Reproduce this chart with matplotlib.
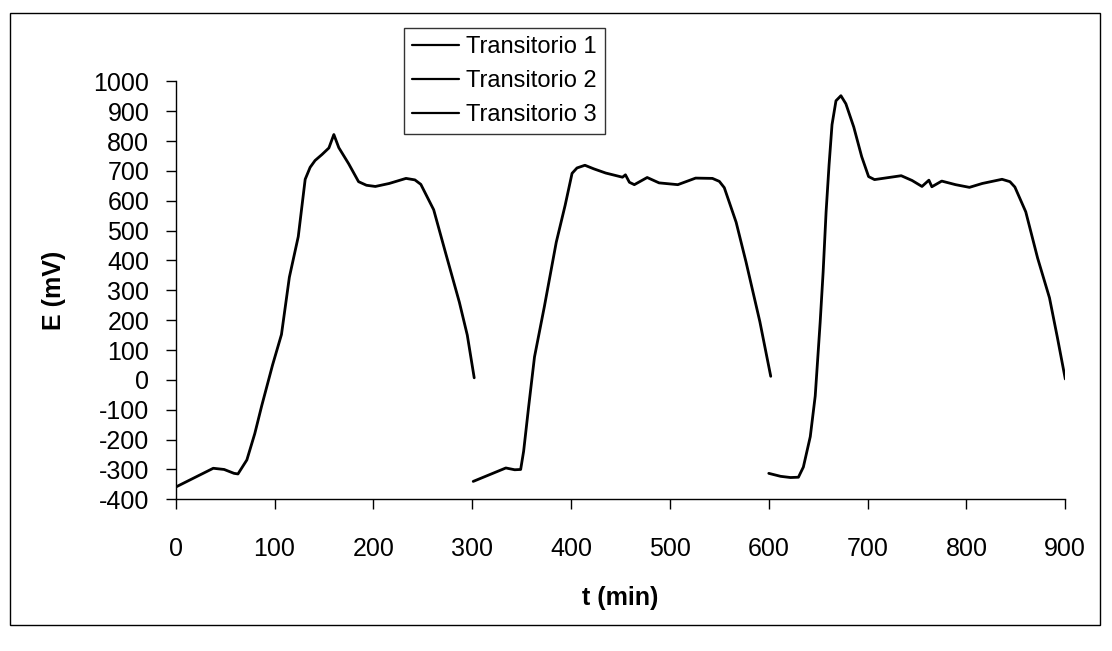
import matplotlib
matplotlib.use("Agg")
import matplotlib.pyplot as plt
from matplotlib.patches import Rectangle

plt.rcParams['font.family'] = ['Liberation Sans', 'DejaVu Sans']
plt.rcParams['axes.unicode_minus'] = False

# --- data (tiempo en min, potencial en mV) ---
t1 = [0, 38, 49, 59, 63, 72, 80, 87, 98, 107, 115, 124, 131, 136, 141, 148,
      155, 160, 165, 175, 185, 193, 202, 216, 233, 242, 248, 261, 273, 287,
      295, 302]
e1 = [-359, -296, -300, -313, -315, -268, -180, -87, 50, 152, 344, 480, 672,
      712, 735, 755, 777, 822, 778, 724, 664, 652, 648, 658, 675, 670, 655,
      570, 426, 260, 150, 7]

t2 = [301, 334, 343, 349, 352, 357, 363, 373, 385, 394, 401, 406, 414, 423,
      435, 452, 455, 459, 464, 477, 489, 508, 526, 543, 550, 555, 567, 577,
      591, 602]
e2 = [-340, -295, -301, -300, -239, -92, 77, 246, 461, 585, 692, 710, 719,
      707, 693, 679, 687, 662, 654, 678, 660, 654, 676, 675, 665, 644, 528,
      395, 195, 12]

t3 = [600, 612, 622, 630, 635, 642, 647, 652, 655, 658, 661, 664, 668, 673,
      678, 686, 694, 701, 707, 734, 745, 755, 762, 765, 775, 789, 803, 816,
      836, 844, 849, 860, 872, 884, 892, 900]
e3 = [-313, -323, -327, -326, -292, -190, -54, 193, 361, 563, 720, 855, 935,
      952, 925, 847, 748, 681, 671, 684, 668, 648, 669, 647, 666, 654, 645,
      658, 672, 664, 646, 563, 408, 275, 142, 3]

labels = ["Transitorio 1", "Transitorio 2", "Transitorio 3"]

fig = plt.figure(figsize=(11.12, 6.51), dpi=100)
ax = fig.add_axes([0.158, 0.233, 0.80, 0.642])

for t, e, lab in zip([t1, t2, t3], [e1, e2, e3], labels):
    ax.plot(t, e, color='black', linewidth=2.0, label=lab,
            solid_joinstyle='round', solid_capstyle='round')

ax.set_xlim(0, 900)
ax.set_ylim(-400, 1000)
ax.set_xticks(range(0, 901, 100))
ax.set_yticks(range(-400, 1001, 100))

ax.spines['top'].set_visible(False)
ax.spines['right'].set_visible(False)
ax.spines['left'].set_linewidth(1.0)
ax.spines['bottom'].set_linewidth(1.0)
ax.tick_params(axis='x', direction='out', length=7, width=1, pad=20, labelsize=18)
ax.tick_params(axis='y', direction='out', length=7, width=1, pad=12, labelsize=18)

ax.set_xlabel("t (min)", fontsize=18, fontweight='bold', labelpad=18)
ax.set_ylabel("E (mV)", fontsize=18, fontweight='bold', labelpad=20)

# legend box sits above the plot area, like the original
leg = fig.legend(loc='upper left', bbox_to_anchor=(0.363, 0.957),
                 fontsize=17, frameon=True, fancybox=False, handlelength=2.0,
                 handletextpad=0.3, borderpad=0.35, labelspacing=0.5,
                 borderaxespad=0)
leg.get_frame().set_edgecolor('black')
leg.get_frame().set_linewidth(1.0)
for h in leg.get_lines():
    h.set_linewidth(1.6)

# outer chart frame
fig.patches.append(Rectangle((0.009, 0.04), 0.98, 0.94, transform=fig.transFigure,
                             fill=False, edgecolor='black', linewidth=1.0))

fig.savefig("out.png", dpi=100, facecolor='white')
